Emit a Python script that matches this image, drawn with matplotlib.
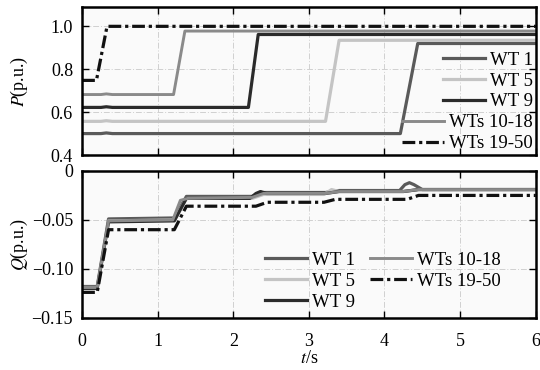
import matplotlib
matplotlib.use("Agg")
import matplotlib.pyplot as plt

# ---- data (breakpoints) ----
labels = ["WT 1", "WT 5", "WT 9", "WTs 10-18", "WTs 19-50"]

p_t_wt1 = [0, 0.25, 0.32, 0.4, 4.21, 4.44, 6]
p_wt1 = [0.50, 0.50, 0.503, 0.50, 0.50, 0.92, 0.92]
p_t_wt5 = [0, 0.25, 0.32, 0.4, 3.22, 3.40, 6]
p_wt5 = [0.557, 0.557, 0.56, 0.557, 0.557, 0.935, 0.935]
p_t_wt9 = [0, 0.25, 0.32, 0.4, 2.20, 2.33, 6]
p_wt9 = [0.622, 0.622, 0.625, 0.622, 0.622, 0.962, 0.962]
p_t_wt10 = [0, 0.25, 0.32, 0.4, 1.21, 1.36, 6]
p_wt10 = [0.682, 0.682, 0.685, 0.682, 0.682, 0.978, 0.978]
p_t_wt19 = [0, 0.19, 0.33, 6]
p_wt19 = [0.748, 0.748, 1.0, 1.0]

q_t_wt1 = [0, 0.2, 0.35, 1.22, 1.38, 2.25, 2.4, 3.22, 3.4, 4.2, 4.27, 4.33, 4.39, 4.5, 6]
q_wt1 = [-0.118, -0.118, -0.049, -0.048, -0.026, -0.026, -0.022, -0.022, -0.020, -0.020, -0.014, -0.012, -0.014, -0.019, -0.019]
q_t_wt5 = [0, 0.2, 0.35, 1.22, 1.38, 2.25, 2.4, 3.2, 3.3, 3.4, 4.25, 4.45, 6]
q_wt5 = [-0.119, -0.119, -0.051, -0.050, -0.028, -0.028, -0.024, -0.024, -0.019, -0.021, -0.021, -0.019, -0.019]
q_t_wt9 = [0, 0.2, 0.35, 1.22, 1.38, 2.22, 2.3, 2.36, 2.44, 3.22, 3.4, 4.25, 4.45, 6]
q_wt9 = [-0.120, -0.120, -0.052, -0.051, -0.028, -0.028, -0.023, -0.021, -0.023, -0.023, -0.021, -0.021, -0.019, -0.019]
q_t_wt10 = [0, 0.2, 0.35, 1.2, 1.3, 1.4, 2.25, 2.4, 3.22, 3.4, 4.25, 4.45, 6]
q_wt10 = [-0.119, -0.119, -0.051, -0.050, -0.030, -0.028, -0.027, -0.023, -0.023, -0.021, -0.021, -0.019, -0.019]
q_t_wt19 = [0, 0.2, 0.35, 1.22, 1.38, 2.3, 2.45, 3.2, 3.35, 4.3, 4.45, 6]
q_wt19 = [-0.124, -0.124, -0.060, -0.060, -0.036, -0.036, -0.032, -0.032, -0.029, -0.029, -0.025, -0.025]

p_series = [(p_t_wt1, p_wt1), (p_t_wt5, p_wt5), (p_t_wt9, p_wt9), (p_t_wt10, p_wt10), (p_t_wt19, p_wt19)]
q_series = [(q_t_wt1, q_wt1), (q_t_wt5, q_wt5), (q_t_wt9, q_wt9), (q_t_wt10, q_wt10), (q_t_wt19, q_wt19)]

colors = ["#5a5a5a", "#c4c4c4", "#2b2b2b", "#8a8a8a", "#111111"]
styles = ["-", "-", "-", "-", (0, (4, 1.2, 1, 1.2))]
widths = [2.3, 2.3, 2.3, 2.1, 2.3]

plt.rcParams["font.family"] = ["Liberation Serif", "DejaVu Serif"]
plt.rcParams["mathtext.fontset"] = "stix"

FS = 13.5

fig = plt.figure(figsize=(5.4, 3.7), dpi=100)
ax1 = fig.add_axes([0.152, 0.581, 0.840, 0.400])
ax2 = fig.add_axes([0.152, 0.141, 0.840, 0.397])

for ax in (ax1, ax2):
    ax.set_facecolor("#fafafa")
    ax.set_xlim(0, 6)
    ax.set_xticks(range(0, 7))
    ax.grid(True, color="#d0d0d0", linestyle=(0, (6, 2, 1, 2)), linewidth=0.7)
    ax.tick_params(direction="in", length=5, width=1, labelsize=13,
                   top=True, right=True)
    ax.tick_params(axis="y", pad=6.5)
    ax.tick_params(axis="x", pad=11)
    for s in ax.spines.values():
        s.set_linewidth(1.8)

for (t, v), c, ls, lw, lab in zip(p_series, colors, styles, widths, labels):
    ax1.plot(t, v, color=c, linestyle=ls, linewidth=lw, label=lab)
for (t, v), c, ls, lw, lab in zip(q_series, colors, styles, widths, labels):
    ax2.plot(t, v, color=c, linestyle=ls, linewidth=lw, label=lab)

ax1.set_ylim(0.4, 1.09)
ax1.set_yticks([0.4, 0.6, 0.8, 1.0])
ax1.set_yticklabels(["0.4", "0.6", "0.8", "1.0"])
ax1.tick_params(axis="x", labelbottom=False)
ax1.set_ylabel(r"$P$(p.u.)", fontsize=13, labelpad=15)

ax2.set_ylim(-0.15, 0)
ax2.set_yticks([-0.15, -0.10, -0.05, 0])
ax2.set_yticklabels(["\u22120.15", "\u22120.10", "\u22120.05", "0"])
ax2.set_ylabel(r"$Q$(p.u.)", fontsize=13, labelpad=1)
ax2.set_xlabel(r"$t$/s", fontsize=13, labelpad=0)

leg1 = ax1.legend(loc="lower right", frameon=False, fontsize=FS, handlelength=2.25,
                  handletextpad=0.27, labelspacing=0.2, borderaxespad=0.05,
                  borderpad=0.1)
for vp in leg1._legend_handle_box.get_children():
    vp.align = "right"

leg2 = ax2.legend(loc="lower left", bbox_to_anchor=(0.39, 0.01), ncol=2,
                  frameon=False, fontsize=FS, handlelength=2.25,
                  handletextpad=0.27, labelspacing=0.2, columnspacing=0.8,
                  borderpad=0.1, borderaxespad=0.2)

fig.savefig("out.png", dpi=100)
